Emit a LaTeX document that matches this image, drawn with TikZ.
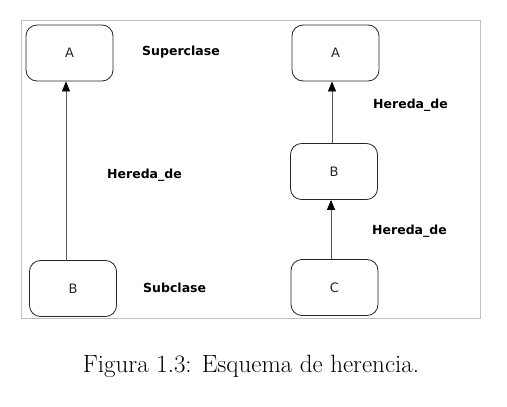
\documentclass[tikz,border=0pt]{standalone}
\usepackage{fontspec}
\setsansfont{DejaVu Sans}
\usetikzlibrary{arrows.meta}
\begin{document}
\begin{tikzpicture}[x=1pt,y=-1pt,
  cls/.style={draw=black!85,line width=0.8pt,rounded corners=11pt,minimum width=87pt,minimum height=56pt,inner sep=0pt,font=\sffamily\fontsize{13}{15}\selectfont,text=black!85},
  lbl/.style={font=\sffamily\bfseries\fontsize{12.5}{14}\selectfont,inner sep=0pt,text=black},
  inh/.style={draw=black!65,line width=0.8pt,-{Triangle[width=8pt,length=10pt,color=black,fill=black]}}]
\useasboundingbox (0,0) rectangle (507,407);
\draw[black!25,line width=0.8pt] (21,20) rectangle (480,318);
% left diagram
\node[cls] (la) at (69.5,53) {A};
\node[cls] (lb) at (73,288.5) {B};
\draw[inh] (66,261) -- (la.south -| 66,0);
\node[lbl,anchor=west] (sup) at (142,52) {Superclase};
\node[lbl,anchor=west] (her1) at (107,175) {Hereda\_de};
\node[lbl,anchor=west] (sub) at (143,288) {Subclase};
% right diagram
\node[cls] (ra) at (335.5,53) {A};
\node[cls] (rb) at (334,171.5) {B};
\node[cls] (rc) at (334.5,287.5) {C};
\draw[inh] (rb.north -| 332,0) -- (ra.south -| 332,0);
\draw[inh] (rc.north -| 331,0) -- (rb.south -| 331,0);
\node[lbl,anchor=west] (her2) at (373,105) {Hereda\_de};
\node[lbl,anchor=west] (her3) at (372,231) {Hereda\_de};
% caption
\node[font=\rmfamily\fontsize{25}{30}\selectfont,inner sep=0pt] (cap) at (251,366) {Figura 1.3: Esquema de herencia.};
\end{tikzpicture}
\end{document}
